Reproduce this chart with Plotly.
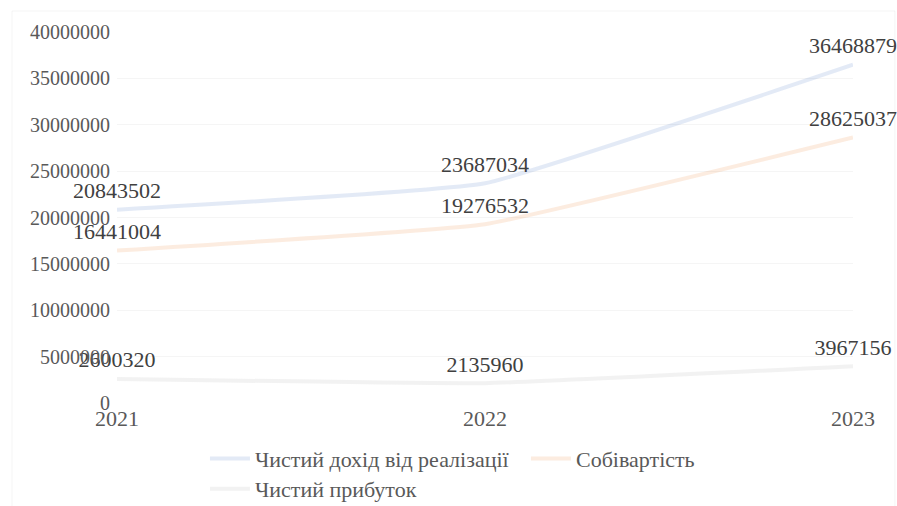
import plotly.graph_objects as go

years = ["2021", "2022", "2023"]
revenue = [20843502, 23687034, 36468879]
cost = [16441004, 19276532, 28625037]
profit = [2600320, 2135960, 3967156]
names = ["Чистий дохід від реалізації", "Собівартість", "Чистий прибуток"]
colors = ["rgba(68,114,196,0.15)", "rgba(237,125,49,0.15)", "rgba(165,165,165,0.15)"]
y_ticks = [0, 5000000, 10000000, 15000000, 20000000, 25000000, 30000000, 35000000, 40000000]

FONT = "Liberation Serif, Times New Roman, serif"

fig = go.Figure()
series = [revenue, cost, profit]
legends = ["legend", "legend", "legend2"]
for vals, name, col, lg in zip(series, names, colors, legends):
    fig.add_trace(go.Scatter(
        x=years, y=vals, name=name, mode="lines+markers+text",
        text=[str(v) for v in vals], textposition="top center",
        textfont=dict(family=FONT, size=22, color="#404040"),
        line=dict(color=col, width=4, shape="spline", smoothing=0.3),
        marker=dict(size=8, color="rgba(0,0,0,0)", line=dict(width=0)),
        cliponaxis=False, legend=lg,
    ))

fig.update_layout(
    width=897, height=506,
    margin=dict(l=117, r=44, t=32, b=103, autoexpand=False),
    paper_bgcolor="white", plot_bgcolor="white",
    font=dict(family=FONT, size=20, color="#595959"),
    showlegend=True,
    legend=dict(orientation="h", xref="container", yref="container",
                x=0.2285, xanchor="left", y=0.135, yanchor="top",
                itemwidth=40, entrywidth=266, entrywidthmode="pixels",
                font=dict(family=FONT, size=22, color="#595959"),
                bgcolor="rgba(0,0,0,0)"),
    legend2=dict(orientation="h", xref="container", yref="container",
                 x=0.2285, xanchor="left", y=0.075, yanchor="top",
                 itemwidth=40, font=dict(family=FONT, size=22, color="#595959"),
                 bgcolor="rgba(0,0,0,0)"),
    xaxis=dict(type="category", range=[0, 2], showgrid=False, zeroline=False,
               showline=False, ticks="", tickfont=dict(family=FONT, size=22, color="#595959")),
    yaxis=dict(range=[0, 40000000], tickvals=y_ticks, ticktext=[str(v) for v in y_ticks],
               showgrid=True, gridcolor="rgba(217,217,217,0.25)", gridwidth=1,
               zeroline=False, showline=False, ticks="", ticklabelstandoff=6,
               tickfont=dict(family=FONT, size=20, color="#595959")),
    shapes=[dict(type="rect", xref="paper", yref="paper",
                 x0=-0.1427, x1=1.057, y0=-0.4, y1=1.0566,
                 line=dict(color="rgba(217,217,217,0.3)", width=1), layer="below")],
)

fig.write_html("out.html")
